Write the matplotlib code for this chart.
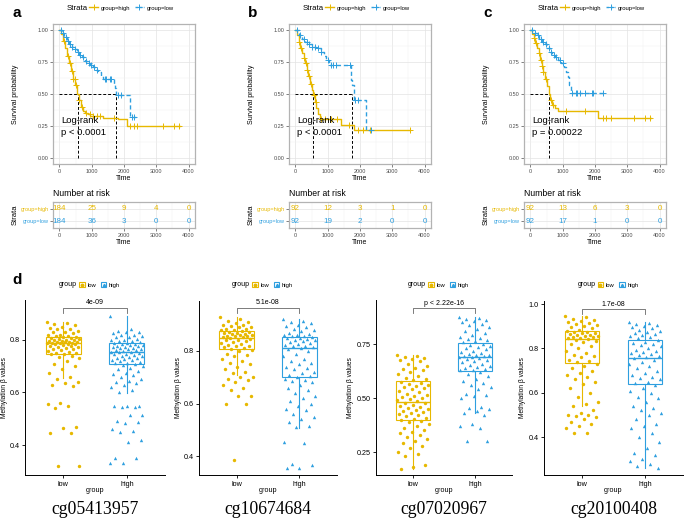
import numpy as np
import matplotlib
matplotlib.use("Agg")
import matplotlib.pyplot as plt
from matplotlib.lines import Line2D
from matplotlib.patches import Patch
from matplotlib.legend_handler import HandlerTuple

plt.rcParams['font.family'] = ['Liberation Sans', 'DejaVu Sans']

YEL = "#E7B800"
BLU = "#2E9FDF"
W, H = 685, 523

# ---------------- Kaplan-Meier data (step points) ----------------
a_high_t = [0, 60, 120, 180, 240, 300, 360, 420, 480, 540, 600, 660, 720, 800, 880, 960, 1350, 1800, 2080]
a_high_s = [1.0, 0.97, 0.92, 0.86, 0.80, 0.74, 0.68, 0.62, 0.57, 0.50, 0.45, 0.40, 0.37, 0.35, 0.34, 0.33, 0.31, 0.30, 0.25]
a_high_end = 3750
a_high_cens = [150, 250, 330, 380, 420, 470, 520, 600, 700, 820, 950, 1050, 1150, 1250, 1700, 2200, 2300, 2400, 3200, 3550, 3700]
a_low_t = [0, 80, 150, 220, 300, 380, 460, 540, 620, 700, 800, 880, 960, 1040, 1120, 1200, 1280, 1340, 1680, 1720, 1760, 2200]
a_low_s = [1.0, 0.98, 0.95, 0.92, 0.89, 0.87, 0.85, 0.83, 0.81, 0.79, 0.76, 0.74, 0.73, 0.71, 0.69, 0.67, 0.64, 0.62, 0.58, 0.55, 0.49, 0.32]
a_low_end = 2400
a_low_cens = [60, 120, 200, 260, 330, 400, 480, 560, 640, 720, 820, 900, 980, 1060, 1150, 1400, 1450, 1560, 1600, 1820, 1900, 2250, 2300]
a_medians = [560, 1760]
a_pval = "p < 0.0001"
a_risk_high = [184, 25, 9, 4, 0]
a_risk_low = [184, 36, 3, 0, 0]

b_high_t = [0, 50, 100, 150, 200, 250, 300, 350, 400, 450, 500, 550, 600, 650, 700, 760, 1400, 1820]
b_high_s = [1.0, 0.96, 0.91, 0.86, 0.82, 0.78, 0.74, 0.69, 0.64, 0.58, 0.53, 0.49, 0.44, 0.39, 0.34, 0.30, 0.26, 0.22]
b_high_end = 3550
b_high_cens = [120, 180, 260, 330, 370, 420, 480, 560, 640, 780, 900, 1100, 1300, 1650, 1950, 2100, 2300, 3550]
b_low_t = [0, 100, 200, 300, 400, 500, 650, 780, 880, 960, 1050, 1720, 1760, 1800, 2200]
b_low_s = [1.0, 0.96, 0.93, 0.91, 0.89, 0.87, 0.86, 0.83, 0.80, 0.77, 0.73, 0.61, 0.57, 0.45, 0.22]
b_low_end = 2350
b_low_cens = [60, 150, 250, 350, 420, 520, 600, 700, 800, 1000, 1100, 1150, 1250, 1700, 1850, 1950, 2350]
b_medians = [550, 1760]
b_pval = "p < 0.0001"
b_risk_high = [92, 12, 3, 1, 0]
b_risk_low = [92, 19, 2, 0, 0]

c_high_t = [0, 50, 100, 150, 200, 250, 300, 350, 400, 450, 500, 560, 620, 680, 760, 860, 2090]
c_high_s = [1.0, 0.97, 0.94, 0.90, 0.86, 0.82, 0.77, 0.72, 0.67, 0.62, 0.56, 0.50, 0.45, 0.41, 0.39, 0.37, 0.31]
c_high_end = 3750
c_high_cens = [100, 180, 250, 330, 360, 400, 480, 640, 700, 1100, 1700, 2250, 2350, 2500, 3200, 3550, 3700]
c_low_t = [0, 120, 200, 280, 360, 440, 520, 600, 680, 760, 860, 960, 1040, 1100, 1150, 1200, 1250]
c_low_s = [1.0, 0.98, 0.96, 0.93, 0.91, 0.89, 0.86, 0.83, 0.81, 0.79, 0.77, 0.74, 0.71, 0.67, 0.63, 0.57, 0.51]
c_low_end = 2250
c_low_cens = [60, 150, 240, 320, 400, 480, 560, 640, 720, 800, 900, 1000, 1300, 1400, 1450, 1550, 1700, 1900, 1950, 2250]
c_medians = [580]
c_pval = "p = 0.00022"
c_risk_high = [92, 13, 6, 3, 0]
c_risk_low = [92, 17, 1, 0, 0]

risk_times = [0, 1000, 2000, 3000, 4000]

# ---------------- methylation box plots ----------------
d1_low = [0.87, 0.865, 0.86, 0.855, 0.85, 0.845, 0.84, 0.84, 0.835, 0.83, 0.83, 0.825, 0.82, 0.82, 0.815, 0.815, 0.812,
          0.81, 0.808, 0.806, 0.805, 0.803, 0.80, 0.80, 0.798, 0.797, 0.795, 0.794, 0.793, 0.792, 0.791, 0.79, 0.79, 0.789,
          0.788, 0.786, 0.785, 0.783, 0.78, 0.778, 0.776, 0.774, 0.772, 0.77, 0.767, 0.764, 0.76, 0.757, 0.755, 0.752, 0.75, 0.748,
          0.745, 0.74, 0.735, 0.73, 0.72, 0.71, 0.70, 0.69, 0.675, 0.66, 0.65, 0.64, 0.635, 0.63, 0.625,
          0.56, 0.555, 0.55, 0.54, 0.47, 0.465, 0.445, 0.445, 0.32, 0.32]
d1_high = [0.89, 0.84, 0.835, 0.83, 0.83, 0.825, 0.82, 0.82, 0.815, 0.81, 0.81, 0.805, 0.80, 0.80, 0.797, 0.795, 0.793, 0.79,
           0.788, 0.786, 0.784, 0.782, 0.78, 0.778, 0.776, 0.774, 0.772, 0.77, 0.768, 0.766, 0.764, 0.762, 0.76, 0.758, 0.756, 0.755,
           0.753, 0.75, 0.747, 0.745, 0.742, 0.74, 0.737, 0.735, 0.732, 0.73, 0.727, 0.725, 0.722, 0.72, 0.717, 0.714, 0.712, 0.71,
           0.705, 0.70, 0.695, 0.69, 0.68, 0.675, 0.67, 0.665, 0.66, 0.65, 0.645, 0.64, 0.635, 0.63, 0.62, 0.61, 0.60,
           0.55, 0.55, 0.548, 0.545, 0.545, 0.515, 0.515, 0.49, 0.488, 0.485, 0.46, 0.455, 0.45, 0.42, 0.41, 0.35, 0.35, 0.33, 0.33]
d2_low = [0.93, 0.92, 0.915, 0.91, 0.905, 0.90, 0.90, 0.895, 0.89, 0.89, 0.885, 0.883, 0.88, 0.878,
          0.875, 0.873, 0.871, 0.869, 0.867, 0.865, 0.863, 0.861, 0.86, 0.858, 0.856, 0.855, 0.853, 0.852,
          0.849, 0.846, 0.843, 0.84, 0.837, 0.834, 0.83, 0.827, 0.824, 0.82, 0.817, 0.814, 0.811, 0.809,
          0.805, 0.80, 0.79, 0.785, 0.78, 0.77, 0.76, 0.755, 0.75, 0.74, 0.73, 0.72, 0.715, 0.70, 0.70, 0.695, 0.69,
          0.68, 0.67, 0.66, 0.65, 0.63, 0.63, 0.60, 0.598, 0.385]
d2_high = [0.92, 0.915, 0.91, 0.905, 0.90, 0.895, 0.89, 0.885, 0.88, 0.875, 0.87, 0.865, 0.862, 0.86, 0.857, 0.855,
           0.852, 0.85, 0.848, 0.845, 0.842, 0.84, 0.837, 0.834, 0.83, 0.827, 0.824, 0.82, 0.817, 0.814, 0.812,
           0.808, 0.80, 0.79, 0.78, 0.77, 0.76, 0.755, 0.75, 0.74, 0.735, 0.73, 0.72, 0.715, 0.71, 0.705,
           0.70, 0.695, 0.69, 0.685, 0.68, 0.67, 0.66, 0.65, 0.64, 0.63, 0.62, 0.61, 0.60, 0.59, 0.58, 0.575, 0.56, 0.55,
           0.54, 0.53, 0.515, 0.51, 0.455, 0.45, 0.37, 0.365, 0.355, 0.355]
d3_low = [0.70, 0.695, 0.69, 0.685, 0.68, 0.675, 0.67, 0.66, 0.65, 0.64, 0.635, 0.63, 0.62, 0.61, 0.60, 0.595, 0.59, 0.585,
          0.575, 0.57, 0.565, 0.56, 0.555, 0.55, 0.545, 0.54, 0.535, 0.53, 0.52, 0.515, 0.51, 0.505, 0.50, 0.495, 0.49, 0.485,
          0.478, 0.475, 0.47, 0.465, 0.46, 0.455, 0.45, 0.445, 0.44, 0.435, 0.43, 0.425, 0.42, 0.415, 0.41, 0.405, 0.40,
          0.395, 0.39, 0.38, 0.37, 0.36, 0.35, 0.345, 0.34, 0.33, 0.32, 0.31, 0.30, 0.29, 0.28, 0.27, 0.25, 0.24, 0.23,
          0.19, 0.18, 0.17]
d3_high = [0.875, 0.87, 0.865, 0.86, 0.855, 0.85, 0.845, 0.84, 0.83, 0.82, 0.81, 0.80, 0.79, 0.785, 0.78, 0.775, 0.77, 0.765, 0.76,
           0.75, 0.745, 0.74, 0.735, 0.73, 0.725, 0.72, 0.715, 0.71, 0.705, 0.70, 0.698, 0.695, 0.693, 0.691,
           0.688, 0.685, 0.68, 0.675, 0.67, 0.665, 0.66, 0.655, 0.65, 0.645, 0.64, 0.635, 0.63, 0.628,
           0.62, 0.61, 0.60, 0.59, 0.58, 0.57, 0.56, 0.55, 0.54, 0.52, 0.515, 0.51, 0.50, 0.46, 0.455, 0.45, 0.44, 0.43,
           0.42, 0.38, 0.37, 0.36, 0.30, 0.30]
d4_low = [0.945, 0.94, 0.935, 0.93, 0.925, 0.92, 0.915, 0.91, 0.905, 0.90, 0.895, 0.89, 0.885, 0.88,
          0.875, 0.872, 0.87, 0.868, 0.865, 0.862, 0.86, 0.858, 0.855, 0.852, 0.85, 0.848, 0.846, 0.844,
          0.84, 0.835, 0.83, 0.82, 0.81, 0.80, 0.79, 0.78, 0.77, 0.765, 0.76, 0.75, 0.745, 0.74,
          0.73, 0.72, 0.71, 0.70, 0.69, 0.68, 0.67, 0.66, 0.65, 0.64, 0.62, 0.60, 0.58, 0.56, 0.55, 0.54,
          0.52, 0.51, 0.50, 0.50, 0.495, 0.49, 0.48, 0.47, 0.46, 0.45, 0.44, 0.42, 0.42]
d4_high = [0.92, 0.915, 0.91, 0.905, 0.90, 0.895, 0.89, 0.885, 0.88, 0.875, 0.87, 0.865, 0.86, 0.855, 0.85, 0.845, 0.84,
           0.83, 0.825, 0.82, 0.815, 0.81, 0.80, 0.795, 0.79, 0.785, 0.78, 0.775, 0.77, 0.765, 0.762,
           0.755, 0.75, 0.74, 0.73, 0.72, 0.71, 0.70, 0.69, 0.68, 0.67, 0.665, 0.66, 0.65, 0.645,
           0.635, 0.62, 0.61, 0.60, 0.58, 0.575, 0.56, 0.54, 0.53, 0.52, 0.51, 0.50, 0.48, 0.46, 0.45, 0.44,
           0.42, 0.40, 0.38, 0.35, 0.33, 0.32, 0.30, 0.29, 0.28, 0.27, 0.26]

# box stats: whislo, q1, median, q3, whishi
d1_low_box = [0.655, 0.747, 0.789, 0.811, 0.87]
d1_high_box = [0.599, 0.709, 0.754, 0.789, 0.89]
d2_low_box = [0.71, 0.808, 0.850, 0.876, 0.93]
d2_high_box = [0.507, 0.701, 0.811, 0.853, 0.92]
d3_low_box = [0.17, 0.398, 0.481, 0.579, 0.70]
d3_high_box = [0.43, 0.625, 0.690, 0.755, 0.875]
d4_low_box = [0.54, 0.736, 0.842, 0.877, 0.945]
d4_high_box = [0.26, 0.641, 0.759, 0.836, 0.92]

p_labels = ["4e-09", "5.1e-08", "p < 2.22e-16", "1.7e-08"]
probes = ["cg05413957", "cg10674684", "cg07020967", "cg20100408"]

fig = plt.figure(figsize=(W / 100, H / 100), dpi=100)
fig.patch.set_facecolor("white")


def rect(l, t, w, h):
    return [l / W, 1 - (t + h) / H, w / W, h / H]


def ft(x, y, s, **kw):
    return fig.text(x / W, 1 - y / H, s, **kw)


def km_panel(left, letter, hi, lo, medians, pval, risk_hi, risk_lo):
    ax = fig.add_axes(rect(left, 24, 142, 140))
    ax.set_xlim(-200, 4200)
    ax.set_ylim(-0.05, 1.05)
    for (t, s, end, cens), col, ls in [(hi, YEL, "-"), (lo, BLU, (0, (3, 2)))]:
        ax.step(list(t) + [end], list(s) + [s[-1]], where="post", color=col, lw=1, ls=ls, zorder=3)
        idx = np.searchsorted(t, cens, side="right") - 1
        ax.plot(cens, np.array(s)[idx], ls="none", marker="+", ms=4, mew=0.7, color=col, zorder=4)
    ax.plot([0, max(medians)], [0.5, 0.5], color="black", lw=0.7, ls=(0, (3, 2)), zorder=2)
    for m in medians:
        ax.plot([m, m], [0, 0.5], color="black", lw=0.7, ls=(0, (3, 2)), zorder=2)
    ax.text(60, 0.245, "Log-rank\n" + pval, fontsize=6.8, va="center", ha="left", linespacing=1.3, zorder=5)
    ax.set_xticks(risk_times)
    ax.set_yticks([0, 0.25, 0.5, 0.75, 1.0])
    ax.set_yticklabels(["0.00", "0.25", "0.50", "0.75", "1.00"])
    ax.set_xticks([500, 1500, 2500, 3500], minor=True)
    ax.set_yticks([0.125, 0.375, 0.625, 0.875], minor=True)
    ax.grid(which="major", color="#E3E3E3", lw=0.5)
    ax.grid(which="minor", color="#F0F0F0", lw=0.35)
    ax.set_axisbelow(True)
    ax.tick_params(which="major", labelsize=4, colors="#4D4D4D", length=2, width=0.5, pad=1.5)
    ax.tick_params(which="minor", length=0)
    for sp in ax.spines.values():
        sp.set_color("#B3B3B3")
        sp.set_linewidth(0.9)
    ft(left + 71, 178, "Time", fontsize=5, ha="center", va="center")
    ft(left - 37, 94, "Survival probability", fontsize=5, rotation=90, ha="center", va="center")
    ft(left - 36, 13, letter, fontsize=11, fontweight="bold", ha="center", va="center")

    # legend
    lx = left + 14
    ft(lx, 8, "Strata", fontsize=5.6, ha="left", va="center")
    handles = [Line2D([], [], color=YEL, marker="+", lw=1, ms=4, mew=0.7),
               Line2D([], [], color=BLU, marker="+", lw=1, ms=4, mew=0.7, ls=(0, (2, 1)))]
    fig.legend(handles, ["group=high", "group=low"], loc="center left",
               bbox_to_anchor=((lx + 22) / W, 1 - 8 / H), ncol=2, frameon=False, fontsize=4.2,
               handlelength=1.6, handletextpad=0.4, columnspacing=0.8, borderpad=0, borderaxespad=0)

    # risk table
    rt = fig.add_axes(rect(left, 202, 142, 26))
    rt.set_xlim(-200, 4200)
    rt.set_ylim(-0.58, 1.58)
    for x, vh, vl in zip(risk_times, risk_hi, risk_lo):
        rt.text(x, 1, str(vh), color=YEL, fontsize=5.8, ha="center", va="center")
        rt.text(x, 0, str(vl), color=BLU, fontsize=5.8, ha="center", va="center")
    rt.set_xticks(risk_times)
    rt.set_yticks([0, 1])
    rt.set_yticklabels(["group=low", "group=high"])
    for lab, col in zip(rt.get_yticklabels(), [BLU, YEL]):
        lab.set_color(col)
    rt.set_xticks([500, 1500, 2500, 3500], minor=True)
    rt.grid(which="major", axis="x", color="#E3E3E3", lw=0.5)
    rt.grid(which="minor", axis="x", color="#F0F0F0", lw=0.35)
    rt.grid(which="major", axis="y", color="#E3E3E3", lw=0.5)
    rt.set_axisbelow(True)
    rt.tick_params(axis="x", labelsize=4, colors="#4D4D4D", length=2, width=0.5, pad=1.5)
    rt.tick_params(axis="y", labelsize=4, length=2, width=0.5, pad=1, color="#4D4D4D")
    rt.tick_params(which="minor", length=0)
    for sp in rt.spines.values():
        sp.set_color("#B3B3B3")
        sp.set_linewidth(0.9)
    ft(left, 193, "Number at risk", fontsize=6.2, ha="left", va="center")
    ft(left + 71, 242, "Time", fontsize=5, ha="center", va="center")
    ft(left - 38, 215, "Strata", fontsize=5.5, rotation=90, ha="center", va="center")


km_panel(53, "a", (a_high_t, a_high_s, a_high_end, a_high_cens), (a_low_t, a_low_s, a_low_end, a_low_cens),
         a_medians, a_pval, a_risk_high, a_risk_low)
km_panel(289, "b", (b_high_t, b_high_s, b_high_end, b_high_cens), (b_low_t, b_low_s, b_low_end, b_low_cens),
         b_medians, b_pval, b_risk_high, b_risk_low)
km_panel(524, "c", (c_high_t, c_high_s, c_high_end, c_high_cens), (c_low_t, c_low_s, c_low_end, c_low_cens),
         c_medians, c_pval, c_risk_high, c_risk_low)


def box_panel(left, right, top, ylim, yticks, yfmt, lo_vals, hi_vals, lo_box, hi_box, br_y, tip, plab, probe, ylab_off):
    ax = fig.add_axes(rect(left, top, right - left, 475 - top))
    ax.set_xlim(0.4, 2.6)
    ax.set_ylim(ylim)
    stats = [dict(whislo=b[0], q1=b[1], med=b[2], q3=b[3], whishi=b[4]) for b in (lo_box, hi_box)]
    bp = ax.bxp(stats, positions=[1, 2], widths=0.55, showfliers=False, showcaps=False, patch_artist=True)
    for i, col in enumerate([YEL, BLU]):
        bp["boxes"][i].set(facecolor="white", edgecolor=col, lw=0.8, alpha=1)
        bp["medians"][i].set(color=col, lw=1.0)
        for wsk in bp["whiskers"][2 * i:2 * i + 2]:
            wsk.set(color=col, lw=0.8)
    for pos, vals, col, mk in [(1, lo_vals, YEL, "o"), (2, hi_vals, BLU, "^")]:
        n = len(vals)
        jit = ((np.arange(n) * 0.6180339887) % 1 - 0.5) * 0.52
        ax.scatter(pos + jit, vals, s=6, marker=mk, color=col, linewidths=0, zorder=3)
    ax.plot([1, 1, 2, 2], [br_y - tip, br_y, br_y, br_y - tip], color="#666666", lw=0.6, clip_on=False)
    ax.text(1.5, br_y + tip * 0.3, plab, fontsize=5, ha="center", va="bottom")
    ax.set_xticks([1, 2])
    ax.set_xticklabels(["low", "high"])
    ax.set_yticks(yticks)
    ax.set_yticklabels([yfmt.format(v) for v in yticks])
    ax.tick_params(labelsize=5.2, length=2.5, width=0.6, pad=1.5)
    for s in ["top", "right"]:
        ax.spines[s].set_visible(False)
    for s in ["left", "bottom"]:
        ax.spines[s].set_linewidth(0.7)
    cx = (left + right) / 2
    ft(cx, 490, "group", fontsize=5.2, ha="center", va="center")
    ft(left - ylab_off, 388, "Methylation β values", fontsize=4.8, rotation=90, ha="center", va="center")
    ft(cx, 510, probe, fontsize=12.7, family="Liberation Serif", ha="center", va="center")
    # legend
    lx = cx - 36
    ft(lx, 285, "group", fontsize=5, ha="left", va="center")
    handles = [(Patch(facecolor="white", edgecolor=YEL, lw=0.8), Line2D([], [], ls="none", marker="o", ms=1.8, color=YEL)),
               (Patch(facecolor="white", edgecolor=BLU, lw=0.8), Line2D([], [], ls="none", marker="^", ms=1.8, color=BLU))]
    fig.legend(handles, ["low", "high"], loc="center left", bbox_to_anchor=((lx + 20) / W, 1 - 285 / H),
               handler_map={tuple: HandlerTuple(ndivide=1)}, ncol=2, frameon=False, fontsize=4.2,
               handlelength=1.0, handleheight=0.8, handletextpad=0.4, columnspacing=0.8,
               borderpad=0, borderaxespad=0)


box_panel(25, 165, 300, (0.286, 0.952), [0.4, 0.6, 0.8], "{:.1f}", d1_low, d1_high, d1_low_box, d1_high_box,
          0.922, 0.019, p_labels[0], probes[0], 20)
box_panel(199, 337, 301, (0.328, 0.990), [0.4, 0.6, 0.8], "{:.1f}", d2_low, d2_high, d2_low_box, d2_high_box,
          0.964, 0.019, p_labels[1], probes[1], 21)
box_panel(376, 512, 300, (0.144, 0.954), [0.25, 0.5, 0.75], "{:.2f}", d3_low, d3_high, d3_low_box, d3_high_box,
          0.917, 0.023, p_labels[2], probes[2], 25)
box_panel(544, 683, 301, (0.229, 1.014), [0.4, 0.6, 0.8, 1.0], "{:.1f}", d4_low, d4_high, d4_low_box, d4_high_box,
          0.977, 0.022, p_labels[3], probes[3], 21)

ft(17, 280, "d", fontsize=11, fontweight="bold", ha="center", va="center")

fig.savefig("out.png", dpi=100, facecolor="white")
